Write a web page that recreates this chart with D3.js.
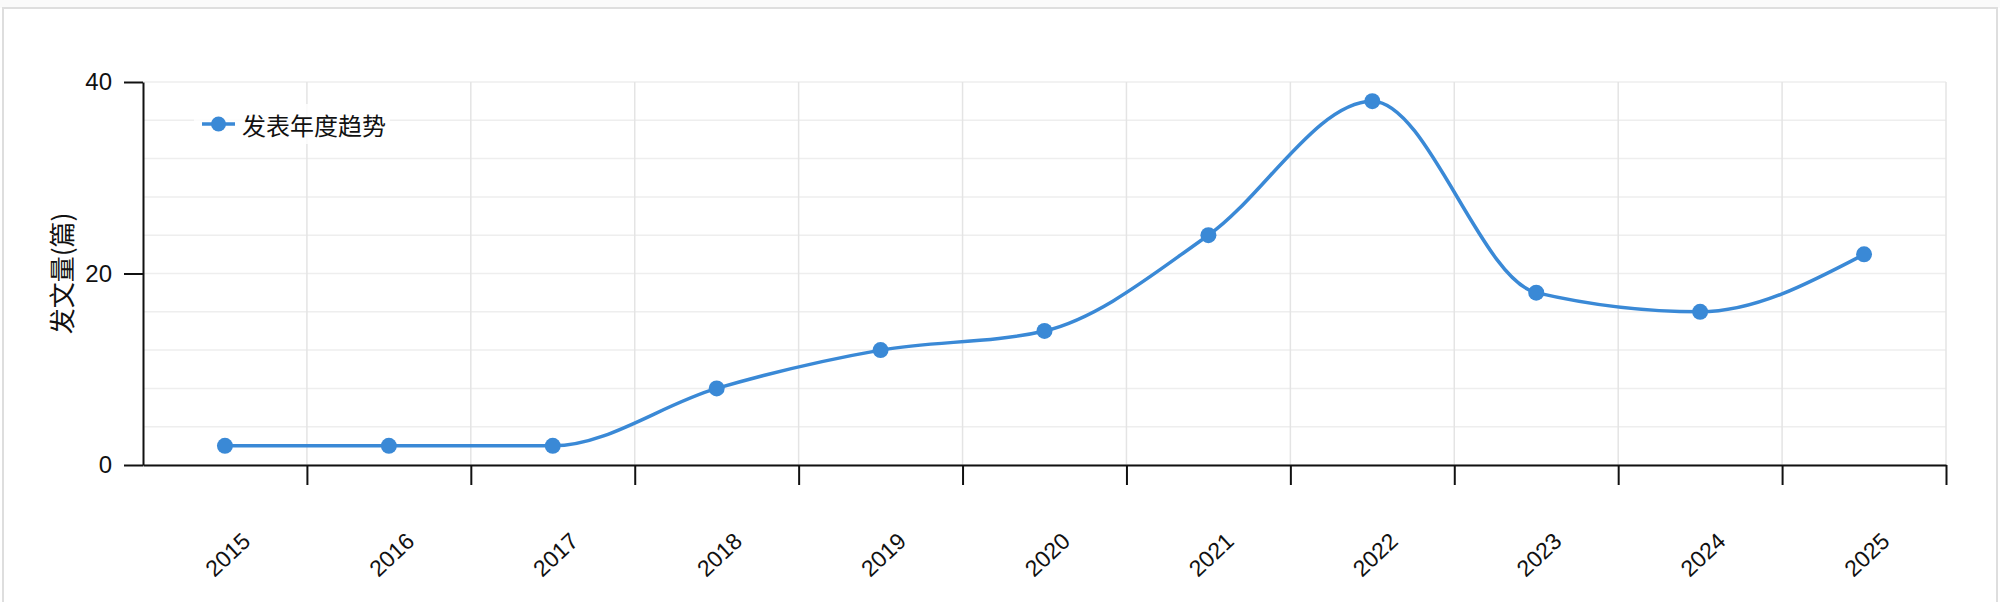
<!DOCTYPE html>
<html>
<head>
<meta charset="utf-8">
<script src="https://cdn.jsdelivr.net/npm/d3@7"></script>
<style>
    html, body { margin: 0; padding: 0; background: #fff; }
    svg { display: block; }
</style>
</head>
<body>
<svg id="chart"></svg>
<script>
'use strict';

// data
var years = ["2015", "2016", "2017", "2018", "2019", "2020", "2021", "2022", "2023", "2024", "2025"];
var counts = [2, 2, 2, 8, 12, 14, 24, 38, 18, 16, 22];
var yTicks = [0, 20, 40];
var yGrid = [0, 4, 8, 12, 16, 20, 24, 28, 32, 36, 40];
var seriesName = "发表年度趋势";
var yTitle = "发文量(篇)";

var width = 2000,
    height = 602,
    margin = {top: 82, right: 54, bottom: 137, left: 143},
    innerW = width - margin.left - margin.right,
    innerH = height - margin.top - margin.bottom;

var blue = "#3a89d6",
    cjk = "'Noto Sans CJK SC', 'Noto Sans', sans-serif",
    latin = "'Liberation Sans', Arial, sans-serif";

var svg = d3.select("#chart")
    .attr("width", width)
    .attr("height", height);

//card frame
svg.append("rect")
    .attr("x", 0).attr("y", 0)
    .attr("width", width).attr("height", 8)
    .attr("fill", "#fafafa");
svg.append("path")
    .attr("d", "M3," + height + "V8H1997V" + height)
    .attr("fill", "none")
    .attr("stroke", "#dedede")
    .attr("stroke-width", 2);

var g = svg.append("g")
    .attr("transform", "translate(" + margin.left + "," + margin.top + ")");

var x = d3.scaleBand()
    .domain(years)
    .range([0, innerW]);

var xEdge = d3.scaleLinear()
    .domain([0, years.length])
    .range([0, innerW]);

var y = d3.scaleLinear()
    .domain([0, 40])
    .range([innerH, 0]);

//horizontal grid
g.append("g")
    .selectAll("line")
    .data(yGrid)
    .enter().append("line")
    .attr("x1", 0).attr("x2", innerW)
    .attr("y1", function (d) { return y(d); })
    .attr("y2", function (d) { return y(d); })
    .attr("stroke", "#eeeeee")
    .attr("stroke-width", 1.5);

//vertical grid at band edges
g.append("g")
    .selectAll("line")
    .data(d3.range(1, years.length + 1))
    .enter().append("line")
    .attr("x1", function (d) { return xEdge(d); })
    .attr("x2", function (d) { return xEdge(d); })
    .attr("y1", 0).attr("y2", innerH)
    .attr("stroke", "#e4e4e4")
    .attr("stroke-width", 1.5);

//y axis
var yAxis = g.append("g")
    .call(d3.axisLeft(y).tickValues(yTicks).tickSize(19).tickPadding(12).tickSizeOuter(0));
yAxis.selectAll("text")
    .style("font-family", latin)
    .style("font-size", "24px")
    .attr("fill", "#111");

//x axis, ticks sit on the band edges
var xAxis = g.append("g")
    .attr("transform", "translate(0," + innerH + ")")
    .call(d3.axisBottom(xEdge)
        .tickValues(d3.range(1, years.length + 1))
        .tickSize(20)
        .tickSizeOuter(0)
        .tickFormat(""));

[yAxis, xAxis].forEach(function (a) {
    a.select(".domain").attr("stroke", "#111").attr("stroke-width", 2);
    a.selectAll(".tick line").attr("stroke", "#111").attr("stroke-width", 2);
});

//x labels
g.append("g")
    .selectAll("text")
    .data(years)
    .enter().append("text")
    .attr("transform", function (d) {
        return "translate(" + (x(d) + x.bandwidth() / 2 + 27) + "," + (innerH + 78) + ") rotate(-43)";
    })
    .attr("text-anchor", "end")
    .style("font-family", latin)
    .style("font-size", "23px")
    .attr("fill", "#111")
    .text(function (d) { return d; });

//y title
svg.append("text")
    .attr("transform", "translate(60," + (margin.top + innerH / 2) + ") rotate(-90)")
    .attr("text-anchor", "middle")
    .attr("dominant-baseline", "central")
    .style("font-family", cjk)
    .style("font-size", "26px")
    .attr("fill", "#111")
    .text(yTitle);

//line
var line = d3.line()
    .x(function (d, i) { return x(years[i]) + x.bandwidth() / 2; })
    .y(function (d) { return y(d); })
    .curve(d3.curveMonotoneX);

g.append("path")
    .datum(counts)
    .attr("d", line)
    .attr("fill", "none")
    .attr("stroke", blue)
    .attr("stroke-width", 3.5);

g.append("g")
    .selectAll("circle")
    .data(counts)
    .enter().append("circle")
    .attr("cx", function (d, i) { return x(years[i]) + x.bandwidth() / 2; })
    .attr("cy", function (d) { return y(d); })
    .attr("r", 8)
    .attr("fill", blue);

//legend
var legend = svg.append("g")
    .attr("transform", "translate(202,124)");
legend.append("rect")
    .attr("x", -8).attr("y", -20)
    .attr("width", 196).attr("height", 40)
    .attr("fill", "#fff").attr("fill-opacity", 0.8);
legend.append("line")
    .attr("x1", 0).attr("x2", 33)
    .attr("stroke", blue)
    .attr("stroke-width", 3.5);
legend.append("circle")
    .attr("cx", 16.5)
    .attr("r", 7.5)
    .attr("fill", blue);
legend.append("text")
    .attr("x", 40)
    .attr("dominant-baseline", "central")
    .style("font-family", cjk)
    .style("font-size", "24px")
    .attr("fill", "#111")
    .text(seriesName);
</script>
</body>
</html>
